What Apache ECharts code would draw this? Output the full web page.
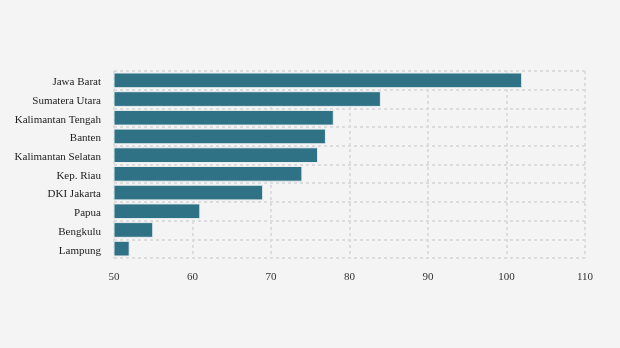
<!DOCTYPE html>
<html><head><meta charset="utf-8">
<script src="https://cdn.jsdelivr.net/npm/echarts@6/dist/echarts.min.js"></script>
<style>html,body{margin:0;padding:0;background:#f4f4f4;}#c{width:620px;height:348px;}</style>
</head><body><div id="c"></div>
<script>
const categories = ["Jawa Barat","Sumatera Utara","Kalimantan Tengah","Banten","Kalimantan Selatan","Kep. Riau","DKI Jakarta","Papua","Bengkulu","Lampung"];
const values = [102,84,78,77,76,74,69,61,55,52];
const chart = echarts.init(document.getElementById('c'));
chart.setOption({
  backgroundColor:'#f4f4f4',
  animation:false,
  grid:{left:114,right:35,top:71,bottom:90},
  xAxis:{type:'value',min:50,max:110,interval:10,
    axisLine:{show:false},axisTick:{show:false},
    axisLabel:{fontFamily:'Liberation Serif',fontSize:11,color:'#333',margin:14},
    splitLine:{show:true,lineStyle:{type:[3,3],color:'#dcdcdc',width:2}}},
  yAxis:{type:'category',data:categories,inverse:true,
    axisLine:{show:true,lineStyle:{color:'#dcdcdc'}},axisTick:{show:false},
    axisLabel:{margin:13,formatter:function(v){return '{a|'+v+'}';},
      rich:{a:{fontFamily:'Liberation Serif',fontSize:11,color:'#222',padding:[4,0,0,0]}}},
    splitLine:{show:true,lineStyle:{type:[3,3],color:'#dcdcdc',width:2}}},
  series:[{type:'bar',data:values,barWidth:'84%',
    itemStyle:{color:'#2f7185',borderColor:'#e8eef0',borderWidth:1}}]
});
</script></body></html>
